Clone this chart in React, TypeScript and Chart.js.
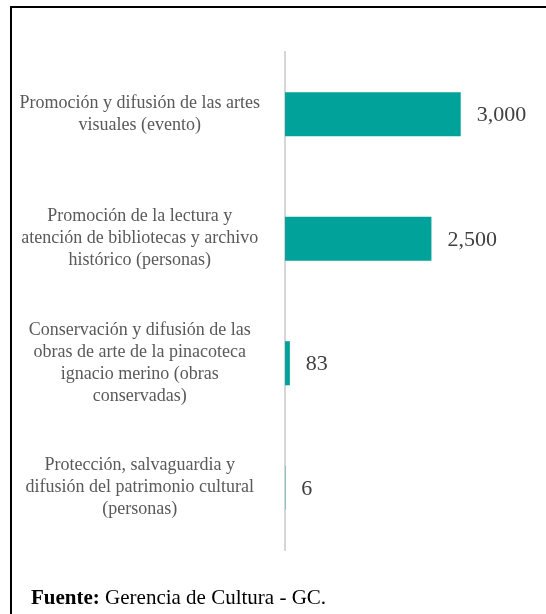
import React, { useEffect, useRef } from "react";
import { Chart, registerables } from "chart.js";

Chart.register(...registerables);

const CATEGORIES: string[][] = [
  ["Promoción y difusión de las artes", "visuales (evento)"],
  ["Promoción de la lectura y", "atención de bibliotecas y archivo", "histórico (personas)"],
  ["Conservación y difusión de las", "obras de arte de la pinacoteca", "ignacio merino (obras", "conservadas)"],
  ["Protección, salvaguardia y", "difusión del patrimonio cultural", "(personas)"],
];
const VALUES: number[] = [3000, 2500, 83, 6];
const SOURCE_LABEL = "Fuente:";
const SOURCE_TEXT = " Gerencia de Cultura - GC.";

const SERIF = '"Liberation Serif", "Times New Roman", serif';

const valueLabels = {
  id: "valueLabels",
  afterDatasetsDraw(chart: any) {
    const ctx = chart.ctx;
    const meta = chart.getDatasetMeta(0);
    ctx.save();
    ctx.font = `22px ${SERIF}`;
    ctx.fillStyle = "#404040";
    ctx.textAlign = "left";
    ctx.textBaseline = "middle";
    meta.data.forEach((bar: any, i: number) => {
      const v = chart.data.datasets[0].data[i] as number;
      ctx.fillText(v.toLocaleString("en-US"), bar.x + 16, bar.y + 1);
    });
    ctx.restore();
  },
};

export default function App() {
  const ref = useRef<HTMLCanvasElement | null>(null);
  useEffect(() => {
    if (!ref.current) return;
    const chart = new Chart(ref.current, {
      type: "bar",
      data: {
        labels: CATEGORIES,
        datasets: [
          {
            data: VALUES,
            backgroundColor: "#00A29A",
            barPercentage: 0.354,
            categoryPercentage: 1,
          },
        ],
      },
      options: {
        indexAxis: "y",
        animation: false,
        responsive: false,
        maintainAspectRatio: false,
        layout: { padding: { left: 0, right: 56, top: 52, bottom: 64 } },
        plugins: { legend: { display: false }, tooltip: { enabled: false } },
        scales: {
          x: { display: false, min: 0, max: 3500 },
          y: {
            grid: { display: false, drawTicks: false },
            border: { display: true, color: "#d6d6d6", width: 2 },
            ticks: {
              crossAlign: "center",
              padding: 25,
              color: "#595959",
              font: { family: SERIF, size: 18, lineHeight: 1.222 },
            },
            afterFit: (s: any) => {
              s.width = 285;
              s.paddingTop = 0;
              s.paddingBottom = 0;
            },
          },
        },
      } as any,
      plugins: [valueLabels],
    });
    return () => chart.destroy();
  }, []);

  return (
    <div style={{ position: "fixed", left: 0, top: 0, width: 546, height: 614, overflow: "hidden", background: "#fff" }}>
      <div
        style={{
          position: "absolute",
          left: 10,
          top: 6,
          width: 600,
          height: 700,
          borderLeft: "2px solid #000",
          borderTop: "2px solid #000",
        }}
      />
      <canvas ref={ref} width={546} height={614} style={{ position: "absolute", left: 0, top: 0, width: 546, height: 614 }} />
      <div
        style={{
          position: "absolute",
          left: 31,
          top: 587,
          fontFamily: SERIF,
          fontSize: 21,
          lineHeight: "21px",
          color: "#000",
          whiteSpace: "nowrap",
        }}
      >
        <b>{SOURCE_LABEL}</b>
        {SOURCE_TEXT}
      </div>
    </div>
  );
}
